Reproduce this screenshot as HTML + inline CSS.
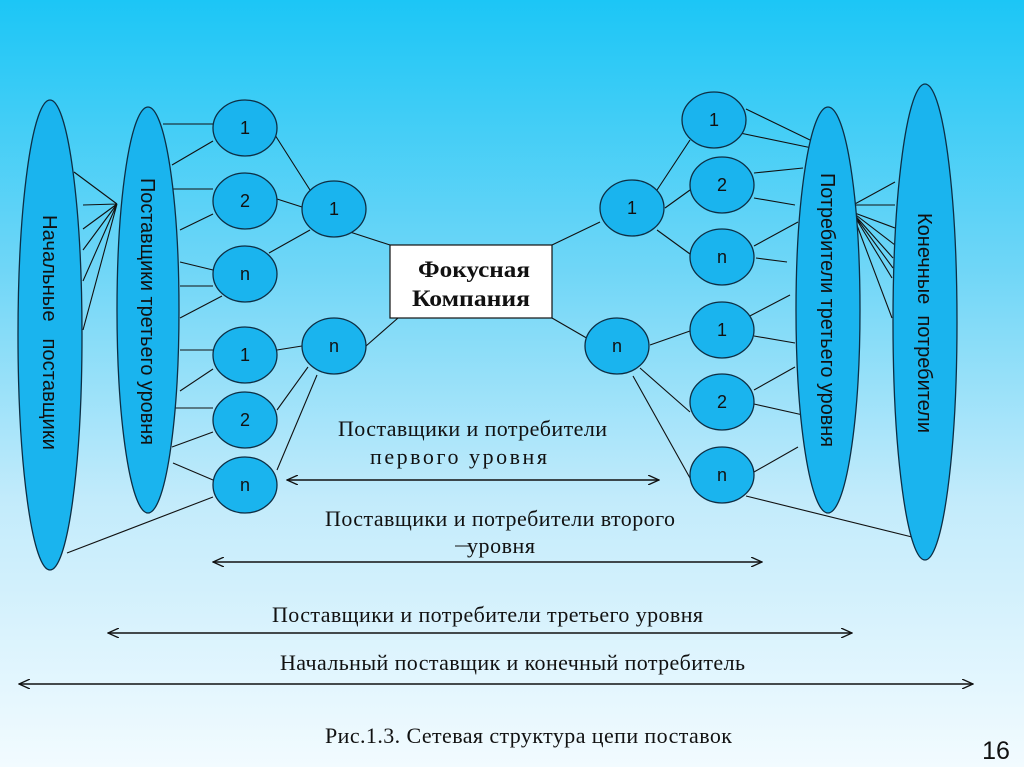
<!DOCTYPE html>
<html><head><meta charset="utf-8"><style>
html,body{margin:0;padding:0;width:1024px;height:767px;overflow:hidden}
body{background:linear-gradient(#1cc6f6 0%,#6fd6f7 35%,#c2ebfb 65%,#f2fbff 100%)}
svg{position:absolute;left:0;top:0}
.s{font-family:"Liberation Serif",serif;font-size:22px;fill:#111}
.a{font-family:"Liberation Sans",sans-serif;fill:#111}
</style></head><body>
<svg width="1024" height="767" viewBox="0 0 1024 767">
<defs><marker id="ar" markerWidth="12" markerHeight="10" refX="11" refY="5" orient="auto-start-reverse" markerUnits="userSpaceOnUse"><path d="M0,0 L11,5 L0,10" fill="none" stroke="#111" stroke-width="1.3"/></marker></defs>
<g stroke="#111" stroke-width="1.1" fill="none">
<path d="M117,204L74,172M117,204L83,205M117,204L83,229M117,204L83,250M117,204L83,281M117,204L83,330"/>
<path d="M163,124L213,124M172,165L213,141M172,189L213,189M180,230L213,214M180,262L213,270M180,286L213,286M180,318L222,296M180,350L213,350M180,391L213,369M173,408L213,408M172,447L213,432M173,463L213,480M67,553L213,497"/>
<path d="M275,135L310,190M277,199L302,207M269,253L310,230M277,350L302,346M277,410L308,367M277,470L317,375"/>
<path d="M350,232L390,245M366,346L398,318M552,245L600,222M552,318L590,340"/>
<path d="M657,190L690,140M665,208L690,190M657,230L690,254M650,345L690,331M640,368L690,412M633,376L690,478"/>
<path d="M746,109L810,140M740,133L812,148M754,173L803,168M754,198L795,205M754,246L798,222M756,258L787,262M746,318L790,295M754,336L795,343M754,390L795,367M754,404L803,415M754,472L798,447M746,496L912,537"/>
<path d="M853,205L895,182M853,205L895,205M852,212L895,228M852,212L895,245M852,212L893,258M852,212L893,268M852,212L892,278M852,212L892,318"/>
</g>
<g fill="#1ab4ee" stroke="#0d2e44" stroke-width="1.3">
<ellipse cx="50" cy="335" rx="32" ry="235"/>
<ellipse cx="148" cy="310" rx="31" ry="203"/>
<ellipse cx="828" cy="310" rx="32" ry="203"/>
<ellipse cx="925" cy="322" rx="32" ry="238"/>
<ellipse cx="245" cy="128" rx="32" ry="28"/>
<ellipse cx="245" cy="201" rx="32" ry="28"/>
<ellipse cx="245" cy="274" rx="32" ry="28"/>
<ellipse cx="245" cy="355" rx="32" ry="28"/>
<ellipse cx="245" cy="420" rx="32" ry="28"/>
<ellipse cx="245" cy="485" rx="32" ry="28"/>
<ellipse cx="334" cy="209" rx="32" ry="28"/>
<ellipse cx="334" cy="346" rx="32" ry="28"/>
<ellipse cx="632" cy="208" rx="32" ry="28"/>
<ellipse cx="617" cy="346" rx="32" ry="28"/>
<ellipse cx="714" cy="120" rx="32" ry="28"/>
<ellipse cx="722" cy="185" rx="32" ry="28"/>
<ellipse cx="722" cy="257" rx="32" ry="28"/>
<ellipse cx="722" cy="330" rx="32" ry="28"/>
<ellipse cx="722" cy="402" rx="32" ry="28"/>
<ellipse cx="722" cy="475" rx="32" ry="28"/>
</g>
<rect x="390" y="245" width="162" height="73" fill="#fff" stroke="#111" stroke-width="1.2"/>
<g class="a" font-size="18" text-anchor="middle">
<text x="245" y="134">1</text><text x="245" y="207">2</text><text x="245" y="280">n</text>
<text x="245" y="361">1</text><text x="245" y="426">2</text><text x="245" y="491">n</text>
<text x="334" y="215">1</text><text x="334" y="352">n</text>
<text x="632" y="214">1</text><text x="617" y="352">n</text>
<text x="714" y="126">1</text><text x="722" y="191">2</text><text x="722" y="263">n</text>
<text x="722" y="336">1</text><text x="722" y="408">2</text><text x="722" y="481">n</text>
</g>
<g class="a" font-size="20">
<text transform="translate(43,215) rotate(90)" textLength="235" lengthAdjust="spacingAndGlyphs" xml:space="preserve">Начальные   поставщики</text>
<text transform="translate(141,178) rotate(90)" textLength="267" lengthAdjust="spacingAndGlyphs">Поставщики третьего уровня</text>
<text transform="translate(821,173) rotate(90)" textLength="274" lengthAdjust="spacingAndGlyphs">Потребители третьего уровня</text>
<text transform="translate(918,213) rotate(90)" textLength="220" lengthAdjust="spacingAndGlyphs" xml:space="preserve">Конечные  потребители</text>
</g>
<g font-family="Liberation Serif,serif" font-weight="bold" font-size="23" fill="#111">
<text x="418" y="277" textLength="112" lengthAdjust="spacingAndGlyphs">Фокусная</text>
<text x="412" y="306" textLength="118" lengthAdjust="spacingAndGlyphs">Компания</text>
</g>
<g class="s" lengthAdjust="spacingAndGlyphs">
<text x="338" y="436" textLength="269">Поставщики и потребители</text>
<text x="370" y="464" textLength="177">первого уровня</text>
<text x="325" y="526" textLength="350">Поставщики и потребители второго</text>
<text x="467" y="553" textLength="68">уровня</text>
<text x="272" y="622" textLength="431">Поставщики и потребители третьего уровня</text>
<text x="280" y="670" textLength="465">Начальный поставщик и конечный потребитель</text>
<text x="325" y="743" textLength="407">Рис.1.3. Сетевая структура цепи поставок</text>
</g>
<line x1="455" y1="546" x2="470" y2="546" stroke="#111" stroke-width="1"/>
<g stroke="#111" stroke-width="1.5">
<line x1="287" y1="480" x2="659" y2="480" marker-start="url(#ar)" marker-end="url(#ar)"/>
<line x1="213" y1="562" x2="762" y2="562" marker-start="url(#ar)" marker-end="url(#ar)"/>
<line x1="108" y1="633" x2="852" y2="633" marker-start="url(#ar)" marker-end="url(#ar)"/>
<line x1="19" y1="684" x2="973" y2="684" marker-start="url(#ar)" marker-end="url(#ar)"/>
</g>
<text x="996" y="759" class="a" font-size="25" text-anchor="middle">16</text>
</svg>
</body></html>
